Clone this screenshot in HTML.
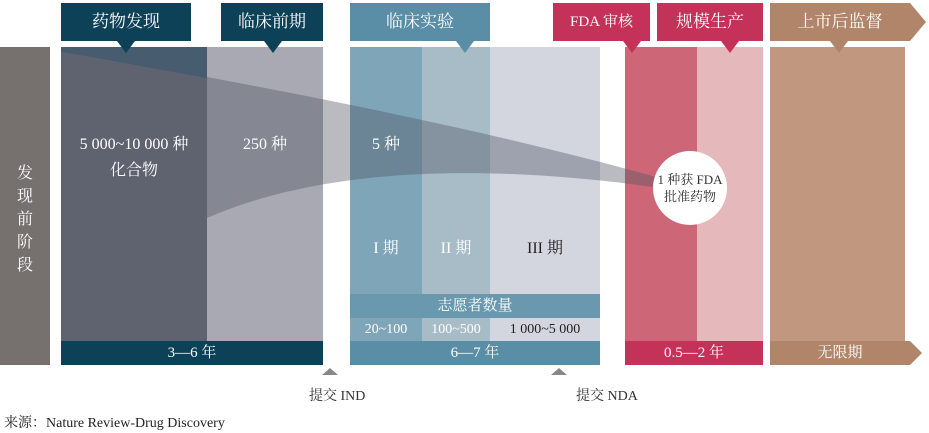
<!DOCTYPE html>
<html><head><meta charset="utf-8"><style>
body{margin:0;width:929px;height:433px;background:#fff;position:relative;overflow:hidden;font-family:"Liberation Serif","Noto Serif CJK SC","Noto Sans CJK SC",serif;}
div{position:absolute;box-sizing:border-box;}
.h{top:3px;height:38px;color:#fff;font-size:17px;line-height:38px;text-align:center;}
.t{color:#fff;font-size:15px;text-align:center;}
.ptr{width:0;height:0;border-left:9px solid transparent;border-right:9px solid transparent;top:41px;}
</style></head><body>
<div style="left:0;top:47px;width:50px;height:318px;background:#76716f"></div>
<div class="t" style="left:12px;top:162px;width:26px;font-size:16px;line-height:23px">发现前阶段</div>

<div style="left:61px;top:47px;width:146px;height:318px;background:#5f6370"></div>
<div style="left:207px;top:47px;width:116px;height:318px;background:#a9a9b3"></div>
<div style="left:350px;top:47px;width:72px;height:318px;background:#7fa5b8"></div>
<div style="left:422px;top:47px;width:68px;height:318px;background:#a8bcc8"></div>
<div style="left:490px;top:47px;width:110px;height:318px;background:#d3d6df"></div>
<div style="left:625px;top:47px;width:72px;height:318px;background:#cd6676"></div>
<div style="left:697px;top:47px;width:66px;height:318px;background:#e5b9bb"></div>
<div style="left:770px;top:47px;width:135px;height:318px;background:#c29780"></div>

<svg style="position:absolute;left:0;top:0" width="929" height="433">
<defs><clipPath id="c"><rect x="207" y="0" width="722" height="433"/></clipPath></defs>
<path clip-path="url(#c)" d="M61,50 C250,85 450,120 660,178 L660,188 C520,168 340,160 207,218 C150,245 90,290 61,320 Z" fill="rgba(80,85,100,0.4)"/>
<path d="M61,47 L207,47 L207,78 C150,68 100,58 61,52 Z" fill="rgba(30,80,110,0.35)"/>
</svg>

<div class="h" style="left:61px;width:130px;background:#0d4158">药物发现</div>
<div class="ptr" style="left:117px;border-top:12px solid #0d4158"></div>
<div class="h" style="left:221px;width:102px;background:#0d4158">临床前期</div>
<div class="ptr" style="left:264px;border-top:12px solid #0d4158"></div>
<div class="h" style="left:350px;width:140px;background:#5a8ea6">临床实验</div>
<div class="ptr" style="left:456px;border-top:12px solid #5a8ea6"></div>
<div class="h" style="left:553px;width:97px;background:#c4325a;font-size:15px">FDA 审核</div>
<div class="ptr" style="left:623px;border-top:12px solid #c4325a"></div>
<div class="h" style="left:657px;width:106px;background:#c4325a">规模生产</div>
<div class="ptr" style="left:721px;border-top:12px solid #c4325a"></div>
<div class="h" style="left:770px;width:140px;background:#b0856a">上市后监督</div>
<div style="left:910px;top:3px;width:0;height:0;border-top:19px solid transparent;border-bottom:19px solid transparent;border-left:16px solid #b0856a"></div>
<div class="ptr" style="left:830px;border-top:12px solid #b0856a"></div>

<div class="t" style="left:61px;top:132px;width:146px;line-height:26px;font-size:16px">5 000~10 000 种<br>化合物</div>
<div class="t" style="left:207px;top:132px;width:116px;line-height:26px;font-size:16px">250 种</div>
<div class="t" style="left:350px;top:132px;width:72px;line-height:26px;font-size:16px">5 种</div>
<div class="t" style="left:350px;top:235px;width:72px;font-size:16px">I 期</div>
<div class="t" style="left:422px;top:235px;width:68px;font-size:16px">II 期</div>
<div class="t" style="left:490px;top:235px;width:110px;color:#222;font-size:16px">III 期</div>

<div class="t" style="left:350px;top:294px;width:250px;height:24px;background:#6a98ae;line-height:24px">志愿者数量</div>
<div class="t" style="left:350px;top:318px;width:72px;height:23px;background:#7fa5b8;line-height:23px;font-size:14px">20~100</div>
<div class="t" style="left:422px;top:318px;width:68px;height:23px;background:#a8bcc8;line-height:23px;font-size:14px">100~500</div>
<div class="t" style="left:490px;top:318px;width:110px;height:23px;background:#d3d6df;line-height:23px;font-size:14px;color:#222">1 000~5 000</div>

<div class="t" style="left:61px;top:341px;width:262px;height:24px;background:#0d4158;line-height:24px">3—6 年</div>
<div class="t" style="left:350px;top:341px;width:250px;height:24px;background:#5a8ea6;line-height:24px">6—7 年</div>
<div class="t" style="left:625px;top:341px;width:138px;height:24px;background:#c4325a;line-height:24px">0.5—2 年</div>
<div class="t" style="left:770px;top:341px;width:140px;height:24px;background:#b0856a;line-height:24px">无限期</div>
<div style="left:910px;top:341px;width:0;height:0;border-top:12px solid transparent;border-bottom:12px solid transparent;border-left:12px solid #b0856a"></div>

<div style="left:653px;top:151px;width:74px;height:74px;border-radius:50%;background:#fff"></div>
<div style="left:648px;top:171px;width:84px;text-align:center;font-size:13px;line-height:17px;color:#333">1 种获 FDA<br>批准药物</div>

<div style="left:322px;top:368px;width:0;height:0;border-left:8px solid transparent;border-right:8px solid transparent;border-bottom:7px solid #888"></div>
<div style="left:551px;top:368px;width:0;height:0;border-left:8px solid transparent;border-right:8px solid transparent;border-bottom:7px solid #888"></div>
<div style="left:309px;top:385px;font-size:14px;color:#333">提交 IND</div>
<div style="left:576px;top:385px;font-size:14px;color:#333">提交 NDA</div>
<div style="left:4px;top:412px;font-size:14px;color:#222">来源：Nature Review-Drug Discovery</div>
</body></html>
